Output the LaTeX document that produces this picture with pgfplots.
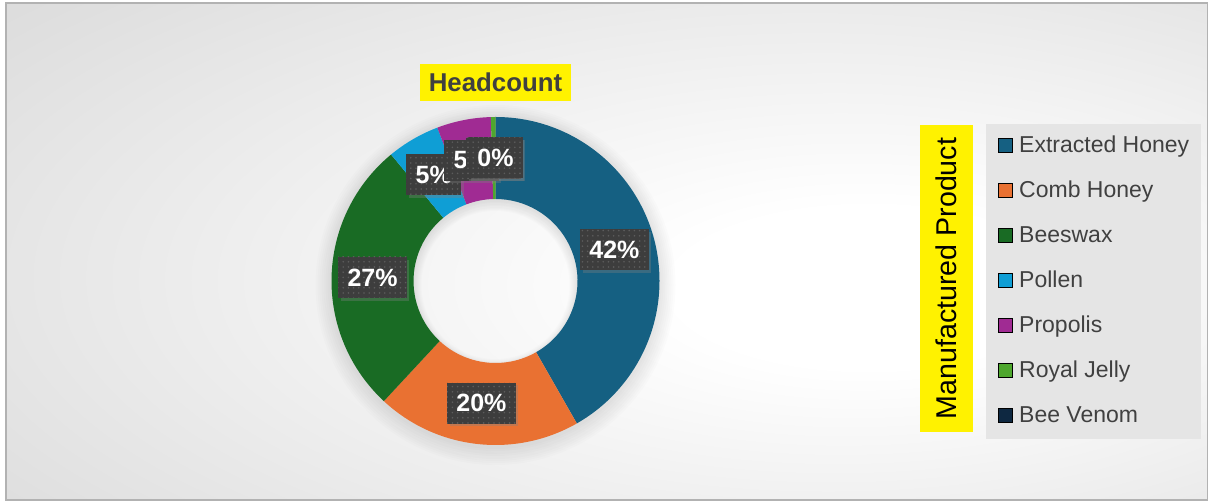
\documentclass[border=0pt]{standalone}
\usepackage{fontspec}
\setmainfont{Liberation Sans}
\usepackage{pgfplots}
\usepackage{pgfplotstable}
\pgfplotsset{compat=1.18}
\usetikzlibrary{shadows,patterns.meta}

% Office 2023 palette
\definecolor{sl0}{HTML}{156082}
\definecolor{sl1}{HTML}{E97132}
\definecolor{sl2}{HTML}{196B24}
\definecolor{sl3}{HTML}{0F9ED5}
\definecolor{sl4}{HTML}{A02B93}
\definecolor{sl5}{HTML}{4EA72E}
\definecolor{sl6}{HTML}{0E2841}
\definecolor{lblbg}{HTML}{3D3D3D}
\definecolor{txtgray}{HTML}{404040}

\pgfdeclareradialshading{chartbg}{\pgfpoint{12bp}{-4bp}}{%
  color(0bp)=(white); color(8bp)=(white); color(40bp)=(black!13);
  color(60bp)=(black!20); color(90bp)=(black!26)}

\pgfplotstableread[col sep=comma]{
product,headcount
Extracted Honey,41.6
Comb Honey,20.1
Beeswax,27.0
Pollen,5.2
Propolis,5.3
Royal Jelly,0.45
Bee Venom,0
}\producttable

% angles (clockwise from 12 o'clock) and percentages per row
\def\total{0}
\pgfplotstableforeachcolumnelement{headcount}\of\producttable\as\val{%
  \pgfmathsetmacro\tnew{\total+\val}\xdef\total{\tnew}}
\def\cum{0}
\pgfplotstableforeachcolumnelement{headcount}\of\producttable\as\val{%
  \pgfmathsetmacro\sAng{90-(\cum/\total)*360}%
  \pgfmathsetmacro\cNew{\cum+\val}%
  \pgfmathsetmacro\eAng{90-(\cNew/\total)*360}%
  \pgfmathsetmacro\mAng{(\sAng+\eAng)/2}%
  \pgfmathtruncatemacro\pct{round((\val/\total)*100)}%
  \expandafter\xdef\csname sa\pgfplotstablerow\endcsname{\sAng}%
  \expandafter\xdef\csname ea\pgfplotstablerow\endcsname{\eAng}%
  \expandafter\xdef\csname ma\pgfplotstablerow\endcsname{\mAng}%
  \expandafter\xdef\csname pc\pgfplotstablerow\endcsname{\pct}%
  \xdef\cum{\cNew}}

\def\Rout{82pt}\def\Rin{41pt}\def\Rring{41pt}\def\Rmid{61.5pt}

\newcommand\donutslice[1]{%
  \edef\tmp{\noexpand\fill[sl#1] (axis cs:0,0) ++(\csname sa#1\endcsname:\Rout)
    arc[start angle=\csname sa#1\endcsname, end angle=\csname ea#1\endcsname, radius=\Rout]
    -- ++(\csname ea#1\endcsname+180:\Rring)
    arc[start angle=\csname ea#1\endcsname, end angle=\csname sa#1\endcsname, radius=\Rin]
    -- cycle;}%
  \tmp}
\newcommand\donutlabel[1]{%
  \edef\tmp{\noexpand\path (axis cs:0,0) ++(\csname ma#1\endcsname:\Rmid)
    node[datalabel] {\csname pc#1\endcsname\noexpand\%};}%
  \tmp}

\tikzset{datalabel/.style={fill=lblbg, text=white,
  font=\bfseries\fontsize{12.5}{14}\selectfont,
  inner xsep=4.6pt, inner ysep=0pt, minimum height=20.5pt,
  drop shadow={shadow xshift=1.3pt, shadow yshift=-1.3pt, opacity=0.35},
  postaction={pattern={Dots[radius=0.45pt, distance=2.6pt]}, pattern color=black!64}},
  halo/.style={black, opacity=0.012, even odd rule}}

\begin{document}
\begin{tikzpicture}[x=0.5pt,y=0.5pt]
\path[use as bounding box, fill=white] (0,0) rectangle (1208,501);
\shade[shading=chartbg] (6,1) rectangle (1208,498);
\draw[black!30, line width=0.6pt] (6,1) rectangle (1208,498);

\begin{axis}[
  at={(165.75pt,28pt)}, anchor=south west,
  scale only axis, width=164pt, height=164pt,
  xmin=-1, xmax=1, ymin=-1, ymax=1,
  hide axis, clip=false,
  legend image code/.code={\fill[#1] (0pt,-3pt) rectangle (7pt,4pt); \path (10pt,0pt);},
  legend cell align=left,
  legend style={at={(axis description cs:1.9954,0.9787)}, anchor=north west,
    draw=none, fill=black!10, inner sep=6pt, row sep=12pt,
    font=\fontsize{11.5}{13}\selectfont, text=txtgray,
    nodes={inner sep=0pt, text height=8.2pt, text depth=2.3pt}},
]
% soft shadow round the ring
\fill[halo] (axis cs:0,0) ++(0pt,-2pt) circle[radius=90pt] circle[radius=37pt];
\fill[halo] (axis cs:0,0) ++(0pt,-2pt) circle[radius=89pt] circle[radius=37.5pt];
\fill[halo] (axis cs:0,0) ++(0pt,-2pt) circle[radius=88pt] circle[radius=38pt];
\fill[halo] (axis cs:0,0) ++(0pt,-2pt) circle[radius=87pt] circle[radius=38.5pt];
\fill[halo] (axis cs:0,0) ++(0pt,-1.5pt) circle[radius=86pt] circle[radius=39pt];
\fill[halo] (axis cs:0,0) ++(0pt,-1.5pt) circle[radius=85pt] circle[radius=39.5pt];
\fill[halo] (axis cs:0,0) ++(0pt,-1pt) circle[radius=84pt] circle[radius=40pt];
\fill[halo] (axis cs:0,0) ++(0pt,-1pt) circle[radius=83pt] circle[radius=40.5pt];
\pgfplotsinvokeforeach{0,...,6}{\donutslice{#1}}
\pgfplotsinvokeforeach{0,...,6}{\donutlabel{#1}}
\addlegendimage{fill=sl0}
\addlegendimage{fill=sl1}
\addlegendimage{fill=sl2}
\addlegendimage{fill=sl3}
\addlegendimage{fill=sl4}
\addlegendimage{fill=sl5}
\addlegendimage{fill=sl6}
\legend{Extracted Honey, Comb Honey, Beeswax, Pollen, Propolis, Royal Jelly, Bee Venom}
\end{axis}

\node[fill=yellow, text=txtgray, font=\bfseries\fontsize{12.9}{15}\selectfont,
  minimum width=75.5pt, minimum height=18.5pt, inner sep=0pt] at (495.5,418.5) {Headcount};
\node[fill=yellow, text=black, rotate=90, font=\fontsize{14.3}{16}\selectfont,
  minimum width=153.5pt, minimum height=26.5pt, inner sep=0pt] at (946.5,222.5) {Manufactured Product};
\end{tikzpicture}
\end{document}
